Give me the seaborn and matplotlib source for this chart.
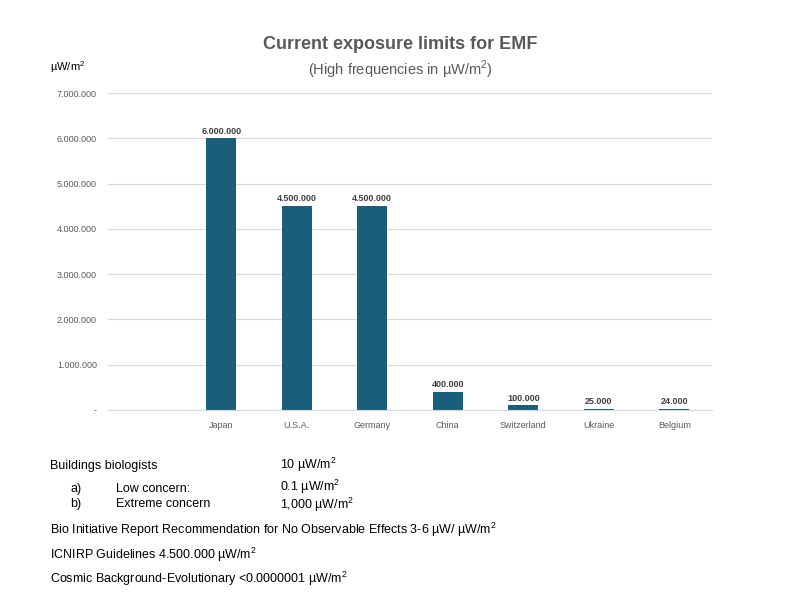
import matplotlib
matplotlib.use("Agg")
import matplotlib.pyplot as plt
import seaborn as sns
import pandas as pd

plt.rcParams["font.family"] = "Liberation Sans"
plt.rcParams["mathtext.fontset"] = "custom"
plt.rcParams["mathtext.rm"] = "Liberation Sans"

countries = ["Japan", "U.S.A.", "Germany", "China", "Switzerland", "Ukraine", "Belgium"]
values = [6000000, 4500000, 4500000, 400000, 100000, 25000, 24000]
yticks = [0, 1000000, 2000000, 3000000, 4000000, 5000000, 6000000, 7000000]

def fmt(v):
    return "-" if v == 0 else f"{v:,}".replace(",", ".")

df = pd.DataFrame({"country": countries, "value": values})
fig = plt.figure(figsize=(8, 6), dpi=100)
ax = fig.add_axes([0.135, 0.317, 0.755, 0.528])
sns.barplot(data=df, x="country", y="value", color="#1b5e7b", width=0.4, ax=ax, saturation=1)
ax.set_xlim(-1.5, 6.5)
ax.set_ylim(0, 7000000)
ax.set_yticks(yticks)
ax.set_yticklabels([fmt(v) for v in yticks])
ax.yaxis.grid(True, color="#d9d9d9", linewidth=0.8)
ax.set_axisbelow(True)
for s in ["top", "right", "left"]:
    ax.spines[s].set_visible(False)
ax.spines["bottom"].set_color("#d9d9d9")
ax.tick_params(axis="both", length=0, labelsize=6.5, colors="#595959", pad=8)
ax.set_xlabel(""); ax.set_ylabel("")
for i, v in enumerate(values):
    ax.text(i, v + 60000, fmt(v), ha="center", va="bottom", fontsize=6.5, fontweight="bold", color="#404040")

fig.text(0.5, 0.918, "Current exposure limits for EMF", ha="center", fontsize=13, fontweight="bold", color="#595959")
fig.text(0.5, 0.875, "(High frequencies in µW/m$^2$)", ha="center", fontsize=10.5, color="#595959")
fig.text(0.063, 0.882, "µW/m$^2$", fontsize=8, color="black")

fs = 9
fig.text(0.063, 0.218, "Buildings biologists", fontsize=fs)
fig.text(0.35, 0.218, "10 µW/m$^2$", fontsize=fs)
fig.text(0.088, 0.18, "a)", fontsize=fs)
fig.text(0.145, 0.18, "Low concern:", fontsize=fs)
fig.text(0.35, 0.182, "0.1 µW/m$^2$", fontsize=fs)
fig.text(0.088, 0.155, "b)", fontsize=fs)
fig.text(0.145, 0.155, "Extreme concern", fontsize=fs)
fig.text(0.35, 0.152, "1,000 µW/m$^2$", fontsize=fs)
fig.text(0.063, 0.11, "Bio Initiative Report Recommendation for No Observable Effects 3-6 µW/ µW/m$^2$", fontsize=fs)
fig.text(0.063, 0.068, "ICNIRP Guidelines 4.500.000 µW/m$^2$", fontsize=fs)
fig.text(0.063, 0.028, "Cosmic Background-Evolutionary <0.0000001 µW/m$^2$", fontsize=fs)

fig.savefig("out.png", dpi=100)
